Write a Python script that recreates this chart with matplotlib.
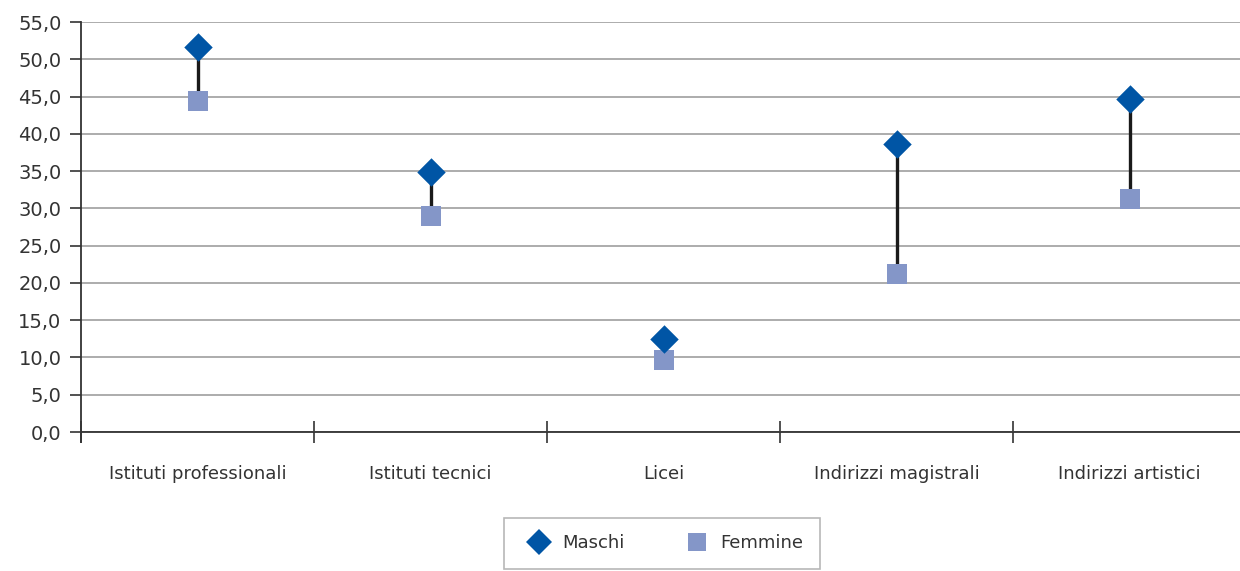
import matplotlib.pyplot as plt
from matplotlib.lines import Line2D

categorie = ['Istituti professionali', 'Istituti tecnici', 'Licei',
             'Indirizzi magistrali', 'Indirizzi artistici']
maschi = [51.6, 34.9, 12.5, 38.6, 44.7]
femmine = [44.4, 29.0, 9.7, 21.2, 31.3]
y_ticks = [0, 5, 10, 15, 20, 25, 30, 35, 40, 45, 50, 55]

col_m = '#0055a5'
col_f = '#8496c8'
testo = '#333333'

fig = plt.figure(figsize=(12.4, 5.71), dpi=100)
ax = fig.add_axes([81 / 1240, 1 - 432 / 571, 1 - 81 / 1240, 410 / 571])

x = list(range(len(categorie)))

# linee verticali tra maschi e femmine
ax.vlines(x, femmine, maschi, color='#1a1a1a', lw=2.4, zorder=3)
ax.scatter(x, femmine, marker='s', s=200, color=col_f, zorder=4, linewidths=0)
ax.scatter(x, maschi, marker='D', s=210, color=col_m, zorder=5, linewidths=0)

ax.set_yticks(y_ticks)
ax.set_yticklabels([f'{v:.1f}'.replace('.', ',') for v in y_ticks],
                   fontsize=14, color=testo)
ax.yaxis.grid(True, color='#a6a6a6', lw=1.3)
ax.set_axisbelow(True)

ax.set_xticks([i - 0.5 for i in range(6)])
ax.set_xticklabels([])
ax.set_xticks(x, minor=True)
ax.set_xticklabels(categorie, minor=True, fontsize=13, color=testo)
ax.tick_params(axis='x', which='minor', length=0, pad=24)
ax.tick_params(axis='x', which='major', direction='inout', length=16,
               width=1.2, color='#333333')
ax.tick_params(axis='y', direction='out', length=8, width=1.2,
               color='#333333', pad=6)

# limiti dopo i tick (set_xticks allarga la vista)
ax.set_ylim(0, 55)
ax.set_xlim(-0.5, 4.474)

for s in ['top', 'right']:
    ax.spines[s].set_visible(False)
ax.spines['left'].set_color('#333333')
ax.spines['left'].set_linewidth(1.3)
ax.spines['bottom'].set_color('#333333')
ax.spines['bottom'].set_linewidth(1.3)
ax.spines['left'].set_bounds(-1.4, 55)

handles = [
    Line2D([], [], marker='D', color=col_m, ls='none', markersize=13,
           markeredgewidth=0, label='Maschi'),
    Line2D([], [], marker='s', color=col_f, ls='none', markersize=13,
           markeredgewidth=0, label='Femmine'),
]
leg = fig.legend(handles=handles, loc='upper center', ncol=2,
                 bbox_to_anchor=(662 / 1240, 1 - 518 / 571),
                 frameon=True, fancybox=False, edgecolor='#a6a6a6',
                 fontsize=13, handletextpad=0.3, columnspacing=3.0,
                 borderpad=0.9, borderaxespad=0)
for t in leg.get_texts():
    t.set_color(testo)
leg.get_frame().set_linewidth(1.2)

fig.savefig('out.png', dpi=100)
